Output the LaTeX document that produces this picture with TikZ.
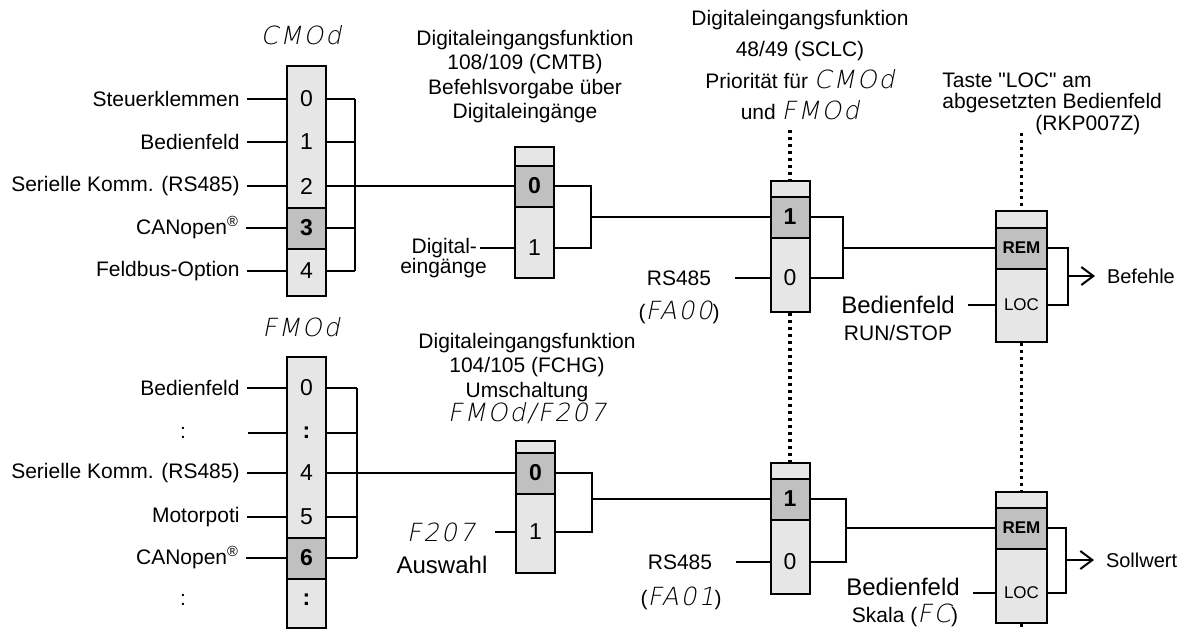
\documentclass[tikz,border=0pt]{standalone}
\usepackage{fontspec}
\setmainfont{Liberation Sans}
\newfontfamily\segfont[FakeSlant=0.2,LetterSpace=8]{DejaVu Sans ExtraLight}
\usetikzlibrary{arrows.meta,positioning}
\definecolor{CellLight}{HTML}{E6E6E6}
\definecolor{CellDark}{HTML}{C0C0C0}
\newcommand\seg[1]{{\segfont\fontsize{12.5}{14}\selectfont #1}}

\begin{document}
\begin{tikzpicture}[
  x=0.5pt,y=-0.5pt,
  txt/.style={font=\fontsize{10.5}{12.6}\selectfont,inner sep=0pt},
  big/.style={txt,font=\fontsize{12}{14}\selectfont},
  lab/.style={txt,anchor=east,outer sep=3.5pt},
  title/.style={txt,align=center,font=\fontsize{10.5}{12.15}\selectfont},
  outlab/.style={txt,anchor=west,outer sep=6pt,font=\fontsize{10}{12}\selectfont},
  selbox/.style={draw,line width=1pt,fill=CellLight,minimum width=19.5pt,inner sep=0pt},
  cell/.style={minimum width=19.5pt,inner sep=0pt,font=\fontsize{11.5}{12}\selectfont},
  hl/.style={cell,draw,line width=1pt,fill=CellDark,minimum height=20.5pt,font=\fontsize{11.5}{12}\selectfont\bfseries},
  remloc/.style={minimum width=25.5pt,font=\fontsize{8.5}{10}\selectfont},
  wire/.style={line width=1pt},
  link/.style={line width=1.6pt,dash pattern=on 1.7pt off 1.8pt},
  outarrow/.style={wire,-{Straight Barb[length=6pt,width=9pt,line width=1pt]}}
]
\useasboundingbox (0,0) rectangle (1189,629);

% --- Befehle: CMOd
\node[txt] (t1) at (301,35) {\seg{CMOd}};
\node[selbox,minimum height=115pt] (s1) at (306.5,181) {};
\foreach \v/\y in {0/99,1/142,2/186,4/271}
  \node[cell] (s1r\v) at (306.5,\y) {\v};
\node[hl] (s1r3) at (306.5,228) {3};
\foreach \v/\lbl in {0/Steuerklemmen,1/Bedienfeld,2/Serielle Komm. (RS485),3/CANopen\textsuperscript{®},4/Feldbus-Option} {
  \node[lab,left=20pt of s1r\v] (l1\v) {\lbl};
  \draw[wire] (l1\v) -- (s1r\v);
}
\coordinate (b1) at (355,186);
\foreach \v in {0,...,4}
  \draw[wire] (s1r\v) -- (s1r\v -| b1);
\draw[wire] (s1r0 -| b1) -- (s1r4 -| b1);

% CMTB
\node[title] (h2) at (525,76.5) {Digitaleingangsfunktion\\108/109 (CMTB)\\Befehlsvorgabe über\\Digitaleingänge};
\node[selbox,minimum height=65.5pt] (s2) at (534.5,212.5) {};
\node[hl] (s2r0) at (534.5,186) {0};
\node[cell] (s2r1) at (534.5,248) {1};
\node[lab,outer sep=1.5pt] (dig1) at (480,248) {Digital-};
\node[txt] (dig2) at (443.5,268) {eingänge};
\draw[wire] (dig1) -- (s2r1);
\draw[wire] (s1r2) -- (s2r0);
\coordinate (b2) at (591,217);
\draw[wire] (s2r0) -| (b2) |- (s2r1);

% SCLC
\node[title,font=\fontsize{10.5}{15.7}\selectfont] (h3) at (800,65) {Digitaleingangsfunktion\\48/49 (SCLC)\\Priorität für \seg{CMOd}\\und \seg{FMOd}};
\node[selbox,minimum height=65.5pt] (s3) at (790,246.5) {};
\node[hl] (s3r1) at (790,217) {1};
\node[cell] (s3r0) at (790,278) {0};
\node[txt] (rs1) at (679,278) {RS485};
\node[txt] (fa0) at (679,312) {(\seg{FA00})};
\coordinate (rs1e) at (735,278);
\draw[wire] (rs1e) -- (s3r0);
\draw[wire] (b2) -- (s3r1);
\coordinate (b3) at (843,248);
\draw[wire] (s3r1) -| (b3) |- (s3r0);
\coordinate (d3) at (790,130);
\draw[link] (d3) -- (s3);

% LOC
\node[txt,align=left,anchor=west,font=\fontsize{10.5}{10.75}\selectfont] (taste) at (942,103.5) {Taste \textquotedbl LOC\textquotedbl{} am\\abgesetzten Bedienfeld\\\hspace*{46.5pt}(RKP007Z)};
\node[selbox,minimum width=25.5pt,minimum height=65.5pt] (s4) at (1021.5,276.5) {};
\node[hl,remloc,font=\fontsize{8.5}{10}\selectfont\bfseries] (s4r1) at (1021.5,248) {REM};
\node[cell,remloc] (s4r0) at (1021.5,305) {LOC};
\node[big] (bed1) at (898,305) {Bedienfeld};
\node[txt] (run1) at (898,333) {RUN/STOP};
\coordinate (bed1e) at (968,305);
\draw[wire] (bed1e) -- (s4r0);
\draw[wire] (b3) -- (s4r1);
\coordinate (b4) at (1068,276);
\draw[wire] (s4r1) -| (b4) |- (s4r0);
\node[outlab] (bef) at (1095,276) {Befehle};
\draw[outarrow] (b4) -- (bef);
\coordinate (d4) at (1021.5,133);
\draw[link] (d4) -- (s4);

% --- Sollwert: FMOd
\node[txt] (t5) at (301,327) {\seg{FMOd}};
\node[selbox,minimum height=135.5pt] (s5) at (306.5,492.5) {};
\foreach \v/\y/\lbl in {0/388/0,1/433/\textbf{:},4/473/4,5/517/5,7/600/\textbf{:}}
  \node[cell] (s5r\v) at (306.5,\y) {\lbl};
\node[hl] (s5r6) at (306.5,558) {6};
\foreach \v/\lbl in {0/Bedienfeld,4/Serielle Komm. (RS485),5/Motorpoti,6/CANopen\textsuperscript{®}} {
  \node[lab,left=20pt of s5r\v] (l5\v) {\lbl};
  \draw[wire] (l5\v) -- (s5r\v);
}
\node[txt] (l51) at (183,433) {:};
\node[txt] (l57) at (183,600) {:};
\coordinate (l51e) at (248,433);
\draw[wire] (l51e) -- (s5r1);
\coordinate (b5) at (357,473);
\foreach \v in {0,1,4,5,6}
  \draw[wire] (s5r\v) -- (s5r\v -| b5);
\draw[wire] (s5r0 -| b5) -- (s5r6 -| b5);

% FCHG
\node[title] (h6) at (527,378.5) {Digitaleingangsfunktion\\104/105 (FCHG)\\Umschaltung\\\seg{FMOd/F207}};
\node[selbox,minimum height=66pt] (s6) at (535.5,507) {};
\node[hl] (s6r0) at (535.5,473) {0};
\node[cell] (s6r1) at (535.5,532) {1};
\node[txt] (f207) at (441,532) {\seg{F207}};
\node[big] (ausw) at (442,565) {Auswahl};
\coordinate (f207e) at (495,532);
\draw[wire] (f207e) -- (s6r1);
\draw[wire] (s5r4) -- (s6r0);
\coordinate (b6) at (592,499);
\draw[wire] (s6r0) -| (b6) |- (s6r1);

% SCLC
\node[selbox,minimum height=65.5pt] (s7) at (790,528.5) {};
\node[hl] (s7r1) at (790,499) {1};
\node[cell] (s7r0) at (790,562) {0};
\node[txt] (rs2) at (680,562) {RS485};
\node[txt] (fa1) at (681,598) {(\seg{FA01})};
\coordinate (rs2e) at (736,562);
\draw[wire] (rs2e) -- (s7r0);
\draw[wire] (b6) -- (s7r1);
\coordinate (b7) at (846,528);
\draw[wire] (s7r1) -| (b7) |- (s7r0);
\draw[link] (s3) -- (s7);

% LOC
\node[selbox,minimum width=25.5pt,minimum height=65.5pt] (s8) at (1021.5,557.5) {};
\node[hl,remloc,font=\fontsize{8.5}{10}\selectfont\bfseries] (s8r1) at (1021.5,528) {REM};
\node[cell,remloc] (s8r0) at (1021.5,593) {LOC};
\node[big] (bed2) at (903,587) {Bedienfeld};
\node[txt] (ska) at (905,615) {Skala (\seg{FC})};
\coordinate (bed2e) at (973,593);
\draw[wire] (bed2e) -- (s8r0);
\draw[wire] (b7) -- (s8r1);
\coordinate (b8) at (1066,560);
\draw[wire] (s8r1) -| (b8) |- (s8r0);
\node[outlab] (sol) at (1094,560) {Sollwert};
\draw[outarrow] (b8) -- (sol);
\coordinate (d8) at (1021.5,629);
\draw[link] (s4) -- (s8);
\draw[link] (s8) -- (d8);
\end{tikzpicture}
\end{document}
